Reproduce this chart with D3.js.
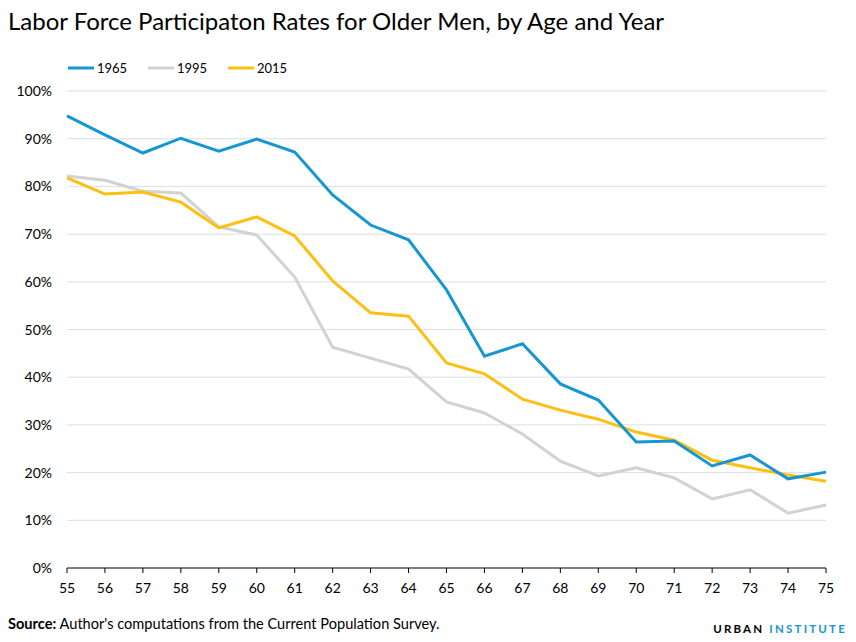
<!DOCTYPE html>
<html><head><meta charset="utf-8">
<script src="https://cdn.jsdelivr.net/npm/d3@7"></script>
<style>body{margin:0;background:#fff;font-family:Lato,sans-serif}</style>
</head><body><svg width="856" height="642"></svg>
<script>
const ages=[55,56,57,58,59,60,61,62,63,64,65,66,67,68,69,70,71,72,73,74,75];
const v1965=[94.8,90.8,87.0,90.1,87.4,89.9,87.2,78.2,71.9,68.8,58.3,44.4,47.0,38.6,35.2,26.4,26.6,21.4,23.7,18.7,20.1];
const v1995=[82.2,81.3,79.0,78.6,71.5,69.8,61.0,46.3,44.0,41.7,34.8,32.5,28.1,22.4,19.3,21.0,18.9,14.5,16.4,11.5,13.2];
const v2015=[81.8,78.4,78.8,76.7,71.3,73.6,69.6,60.2,53.5,52.8,43.0,40.7,35.4,33.1,31.2,28.5,26.8,22.6,21.0,19.5,18.2];
const seriesNames=["1965","1995","2015"];
const colors=["#1696d2","#d2d2d2","#fdbf11"];
const yTicks=[0,10,20,30,40,50,60,70,80,90,100];
const svg=d3.select("svg");
const x=d3.scaleLinear().domain([55,75]).range([67,826]);
const y=d3.scaleLinear().domain([0,100]).range([568,91]);
svg.append("text").attr("x",8).attr("y",30).attr("font-size",24).attr("fill","#000").text("Labor Force Participaton Rates for Older Men, by Age and Year");
const g=svg.append("g");
yTicks.forEach(t=>{
  if(t>0) g.append("line").attr("x1",67).attr("x2",826).attr("y1",y(t)).attr("y2",y(t)).attr("stroke","#dedede");
  g.append("text").attr("x",52).attr("y",y(t)+5).attr("text-anchor","end").attr("font-size",14).text(t+"%");
});
g.append("line").attr("x1",67).attr("x2",826).attr("y1",568).attr("y2",568).attr("stroke","#000");
ages.forEach(a=>{
  g.append("line").attr("x1",x(a)).attr("x2",x(a)).attr("y1",568).attr("y2",573).attr("stroke","#000");
  g.append("text").attr("x",x(a)).attr("y",593).attr("text-anchor","middle").attr("font-size",14).text(a);
});
const line=d3.line().x((d,i)=>x(ages[i])).y(d=>y(d));
[v1995,v2015,v1965].forEach((vals,k)=>{
  const c=[colors[1],colors[2],colors[0]][k];
  g.append("path").attr("d",line(vals)).attr("fill","none").attr("stroke",c).attr("stroke-width",3);
});
const lx=[68,148,228];
seriesNames.forEach((n,i)=>{
  svg.append("line").attr("x1",lx[i]).attr("x2",lx[i]+26).attr("y1",68).attr("y2",68).attr("stroke",colors[i]).attr("stroke-width",3);
  svg.append("text").attr("x",lx[i]+29).attr("y",73).attr("font-size",13).text(n);
});
const f=svg.append("text").attr("x",8).attr("y",629).attr("font-size",14.6);
f.append("tspan").attr("font-weight","bold").text("Source:");
f.append("tspan").text(" Author's computations from the Current Population Survey.");
const u=svg.append("text").attr("x",847).attr("y",633).attr("text-anchor","end").attr("font-size",11.5).attr("font-weight","bold").attr("letter-spacing",2.2);
u.append("tspan").attr("fill","#000").text("URBAN ");
u.append("tspan").attr("fill","#1696d2").text("INSTITUTE");
</script></body></html>
